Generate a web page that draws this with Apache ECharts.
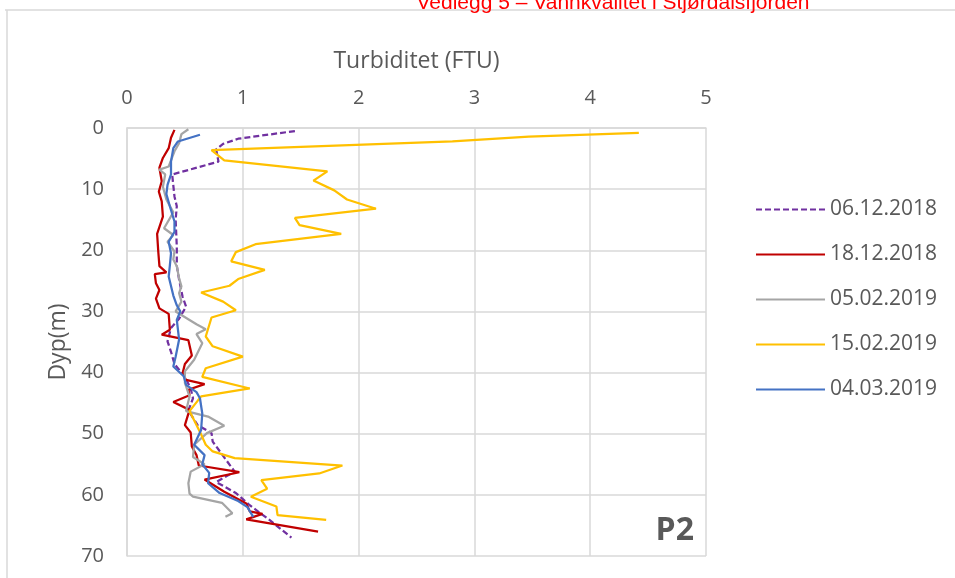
<!DOCTYPE html>
<html>
<head>
<meta charset="utf-8">
<script src="https://cdn.jsdelivr.net/npm/echarts@6/dist/echarts.min.js"></script>
<style>
  html, body { margin: 0; padding: 0; background: #fff; }
  #chart { width: 955px; height: 578px; }
</style>
</head>
<body>
<div id="chart"></div>
<script>
// [turbiditet (FTU), dyp (m)]
const dec06 = [[1.45,0.5],[0.96,1.75],[0.83,2.6],[0.77,3.5],[0.79,5.5],[0.39,7.6],[0.41,11.2],[0.43,12.8],
  [0.42,15.0],[0.43,19.4],[0.43,22.5],[0.45,24.8],[0.48,27.6],[0.51,29.2],[0.45,31.2],[0.38,32.7],[0.35,34.9],
  [0.38,36.6],[0.41,38.6],[0.50,40.7],[0.55,42.6],[0.57,44.2],[0.53,46.2],[0.61,48.6],[0.73,49.9],[0.74,51.3],
  [0.93,56.2],[0.77,57.9],[0.94,59.7],[1.06,61.7],[1.23,64.1],[1.42,67.0]];
const dec18 = [[0.41,0.3],[0.38,1.6],[0.36,3.3],[0.31,4.9],[0.28,6.5],[0.30,8.7],[0.275,10.4],[0.30,12.0],
  [0.31,14.5],[0.26,17.3],[0.27,20.2],[0.28,22.6],[0.34,23.6],[0.24,23.9],[0.25,25.4],[0.28,26.5],[0.25,27.9],
  [0.28,29.5],[0.36,30.4],[0.37,33.0],[0.30,33.8],[0.53,34.7],[0.56,37.2],[0.50,38.6],[0.48,40.1],[0.51,41.2],
  [0.67,41.9],[0.53,42.8],[0.54,43.7],[0.40,44.8],[0.54,46.1],[0.50,48.6],[0.55,49.8],[0.56,52.1],[0.60,53.5],
  [0.62,55.2],[0.97,56.3],[0.67,57.5],[0.84,59.5],[1.03,61.4],[1.06,62.7],[1.17,63.1],[1.03,64.0],[1.65,66.0]];
const feb05 = [[0.53,0.2],[0.47,1.0],[0.45,2.5],[0.41,3.8],[0.38,5.3],[0.36,6.3],[0.28,6.8],[0.33,7.6],
  [0.31,9.6],[0.34,11.7],[0.40,13.8],[0.32,16.4],[0.40,17.5],[0.35,18.6],[0.41,20.2],[0.40,21.5],[0.43,22.6],
  [0.45,24.6],[0.47,25.9],[0.45,27.0],[0.47,28.4],[0.42,30.0],[0.60,32.1],[0.68,32.9],[0.60,33.7],[0.65,35.2],
  [0.58,37.9],[0.50,39.8],[0.50,41.7],[0.54,43.9],[0.51,46.3],[0.70,47.2],[0.84,48.7],[0.69,49.9],[0.58,51.8],
  [0.57,53.8],[0.67,55.0],[0.55,56.2],[0.53,58.1],[0.54,59.8],[0.57,60.3],[0.82,61.3],[0.91,63.0],[0.85,63.6]];
const feb15 = [[4.42,0.8],[3.47,1.4],[2.81,2.2],[0.73,3.6],[0.84,5.3],[1.73,7.1],[1.61,8.6],[1.79,10.2],
  [1.90,11.7],[2.15,13.2],[1.45,14.7],[1.49,15.9],[1.85,17.3],[1.11,19.0],[0.94,20.3],[0.90,21.8],[1.19,23.2],
  [0.96,24.7],[0.885,25.8],[0.64,26.9],[0.83,28.4],[0.94,29.8],[0.73,31.0],[0.68,34.1],[0.74,35.7],[1.00,37.4],
  [0.68,39.3],[0.65,40.7],[1.06,42.6],[0.64,43.9],[0.54,46.3],[0.63,49.7],[0.68,51.8],[0.74,52.9],[0.93,54.0],
  [1.86,55.2],[1.66,56.5],[1.16,57.6],[1.21,59.0],[1.07,60.3],[1.29,61.9],[1.30,63.3],[1.72,64.1]];
const mar04 = [[0.63,1.1],[0.44,2.2],[0.40,3.3],[0.38,5.5],[0.38,7.6],[0.35,9.3],[0.34,10.8],[0.37,12.8],
  [0.41,15.3],[0.41,17.0],[0.36,18.6],[0.38,20.5],[0.37,22.5],[0.36,24.3],[0.40,27.4],[0.43,29.0],[0.46,30.0],
  [0.43,31.4],[0.45,34.6],[0.42,37.4],[0.40,39.0],[0.49,40.6],[0.51,42.0],[0.60,43.2],[0.63,44.2],[0.65,46.7],
  [0.64,49.4],[0.58,51.8],[0.67,53.5],[0.65,55.0],[0.71,56.4],[0.70,58.1],[0.80,59.7],[0.96,61.0],[1.04,62.0],
  [1.09,63.6]];

const seriesNames = ['06.12.2018', '18.12.2018', '05.02.2019', '15.02.2019', '04.03.2019'];
const seriesData = [dec06, dec18, feb05, feb15, mar04];
const colors = ['#7030A0', '#C00000', '#A5A5A5', '#FFC000', '#4472C4'];

const font = '"Open Sans", "Noto Sans", sans-serif';
const textGrey = '#595959';
const gridGrey = '#D9D9D9';

const chart = echarts.init(document.getElementById('chart'));
chart.setOption({
  animation: false,
  textStyle: { fontFamily: font },
  grid: { left: 127, top: 128, width: 579, height: 428 },
  legend: {
    orient: 'vertical',
    left: 750,
    top: 194,
    itemWidth: 69,
    itemHeight: 14,
    itemGap: 24,
    data: seriesNames,
    itemStyle: { opacity: 0 },
    textStyle: { fontSize: 21, color: textGrey, fontFamily: font },
  },
  xAxis: {
    type: 'value',
    position: 'top',
    min: 0,
    max: 5,
    interval: 1,
    name: 'Turbiditet (FTU)',
    nameLocation: 'middle',
    nameGap: 55,
    nameTextStyle: { fontSize: 23, color: textGrey, fontFamily: font },
    axisLine: { show: true, lineStyle: { color: gridGrey, width: 1.5 } },
    axisTick: { show: false },
    axisLabel: { margin: 20, fontSize: 20, color: textGrey, fontFamily: font },
    splitLine: { show: true, lineStyle: { color: gridGrey, width: 1.5 } },
  },
  yAxis: {
    type: 'value',
    inverse: true,
    min: 0,
    max: 70,
    interval: 10,
    name: 'Dyp(m)',
    nameLocation: 'middle',
    nameGap: 56,
    nameTextStyle: { fontSize: 23, color: textGrey, fontFamily: font },
    axisLine: { show: true, lineStyle: { color: gridGrey, width: 1.5 } },
    axisTick: { show: false },
    axisLabel: { margin: 23, fontSize: 20, color: textGrey, fontFamily: font },
    splitLine: { show: true, lineStyle: { color: gridGrey, width: 1.5 } },
  },
  graphic: [
    { type: 'line', shape: { x1: 5, y1: 10, x2: 955, y2: 10 }, style: { stroke: gridGrey, lineWidth: 1.5 } },
    { type: 'line', shape: { x1: 7, y1: 10, x2: 7, y2: 578 }, style: { stroke: gridGrey, lineWidth: 1.5 } },
    {
      type: 'text', x: 613, y: 14,
      style: {
        text: 'Vedlegg 5 – Vannkvalitet i Stjørdalsfjorden',
        fill: '#FF0000', font: '21px "Liberation Sans", Arial, sans-serif',
        textAlign: 'center', textVerticalAlign: 'bottom',
      },
    },
    {
      type: 'text', x: 694, y: 547,
      style: {
        text: 'P2', fill: textGrey, font: 'bold 32px ' + font,
        textAlign: 'right', textVerticalAlign: 'bottom',
      },
    },
  ],
  series: seriesNames.map((name, i) => ({
    name,
    type: 'line',
    data: seriesData[i],
    symbol: 'none',
    color: colors[i],
    lineStyle: { color: colors[i], width: 2.25, type: i === 0 ? [6, 3] : 'solid' },
  })),
});
</script>
</body>
</html>
